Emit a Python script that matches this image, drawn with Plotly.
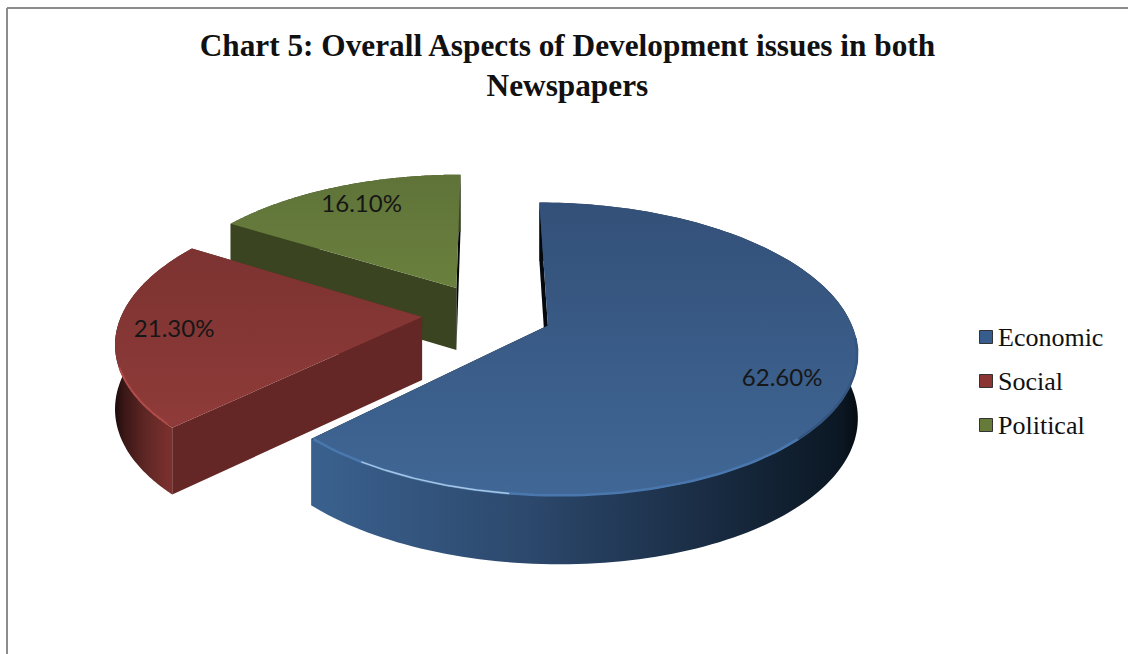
import numpy as np
import plotly.graph_objects as go

# data
categories = ["Economic", "Social", "Political"]
shares = [62.6, 21.3, 16.1]
title_text = "Chart 5: Overall Aspects of Development issues in both<br>Newspapers"

# 3d look of the pie: centre, radii, tilt, explosion, thickness
X0, Y0 = 487, 313.6
RX, RY = 300, 139
PERSP = 0.16
EXPLODE = 0.217
THICK = 63

top_colors = [("#406796", "#335078"), ("#8f3b39", "#7c3331"), ("#6a803d", "#5f7339")]
wall_colors = [
    [[0, "#3a618e"], [0.4, "#2c486c"], [0.75, "#182a40"], [0.97, "#0b1723"], [1, "#060c12"]],
    [[0, "#1c0c0b"], [0.12, "#3a1716"], [0.4, "#5f2725"], [0.75, "#7e312f"], [1, "#8a3532"]],
    [[0, "#3a4420"], [1, "#3a4420"]],
]
cut_colors = [("#05080c", "#05080c"), ("#652725", "#652725"), ("#3a4420", "#05070a")]
rim_colors = ["#4a78ae", "#b04a46", "#6a803d"]
legend_y = [337, 381, 425]
legend_colors = ["#375d8c", "#8a3532", "#667b3a"]
label_radius = [0.85, 0.81, 0.72]
label_nudge = [(-21, 5), (-1, 1), (-5, -7)]


def project(u, v, depth=0.0):
    u, v = np.asarray(u, float), np.asarray(v, float)
    w = 1 - PERSP * v
    drop = depth * (1 + 0.08 * v)
    return X0 + RX * u / w, Y0 + RY * v / w + drop


def polygon(xs, ys, fill=None, gradient=None):
    return go.Scatter(
        x=xs, y=ys, mode="none", fill="toself", fillcolor=fill, fillgradient=gradient,
        hoverinfo="skip", showlegend=False,
    )


def cut_face(cu, cv, t, color):
    fu = np.array([cu, cu + np.sin(t)])
    fv = np.array([cv, cv - np.cos(t)])
    xa, ya = project(fu, fv)
    xb, yb = project(fu, fv, THICK)
    return polygon(np.r_[xa, xb[::-1]], np.r_[ya, yb[::-1]], fill=color)


def rim(cu, cv, deg0, deg1, color, width):
    tr = np.radians(np.linspace(deg0, deg1, 60))
    xr, yr = project(cu + 0.998 * np.sin(tr), cv - 0.998 * np.cos(tr))
    return go.Scatter(x=xr, y=yr, mode="lines", hoverinfo="skip", showlegend=False,
                      line=dict(color=color, width=width))


fig = go.Figure()

edges = np.cumsum([0] + shares) / sum(shares) * 2 * np.pi
slices = []
for i in range(len(shares)):
    t0, t1 = edges[i], edges[i + 1]
    mid = (t0 + t1) / 2
    slices.append((i, t0, t1, EXPLODE * np.sin(mid), -EXPLODE * np.cos(mid), mid))

# back slices first so the front ones cover them
for i, t0, t1, cu, cv, mid in reversed(slices):
    th = np.linspace(t0, t1, 160)
    u = cu + np.sin(th)
    v = cv - np.cos(th)

    # closing face goes under the wall, opening face over it
    fig.add_trace(cut_face(cu, cv, t1, cut_colors[i][1]))

    xa, ya = project(u, v)
    xb, yb = project(u, v, THICK)
    fig.add_trace(polygon(
        np.r_[xa, xb[::-1]], np.r_[ya, yb[::-1]],
        gradient=dict(type="horizontal", colorscale=wall_colors[i]),
    ))

    fig.add_trace(cut_face(cu, cv, t0, cut_colors[i][0]))

    # top face
    xt, yt = project(np.r_[cu, u], np.r_[cv, v])
    fig.add_trace(polygon(
        xt, yt,
        gradient=dict(type="vertical", colorscale=[[0, top_colors[i][0]], [1, top_colors[i][1]]]),
    ))

    # light rim on the front edge
    if i == 0:
        fig.add_trace(rim(cu, cv, 95, 135, "#33557f", 2.5))
        fig.add_trace(rim(cu, cv, 135, 225, rim_colors[0], 2.5))
        fig.add_trace(rim(cu, cv, 188, 214, "#a8c6e4", 1.5))
    if i == 1:
        fig.add_trace(rim(cu, cv, 227, 250, rim_colors[1], 2))

# value labels
for i, t0, t1, cu, cv, mid in slices:
    lx, ly = project(cu + label_radius[i] * np.sin(mid), cv - label_radius[i] * np.cos(mid))
    fig.add_trace(go.Scatter(
        x=[float(lx) + label_nudge[i][0]], y=[float(ly) + label_nudge[i][1]],
        mode="text", text=[f"{shares[i]:.2f}%"],
        textposition="middle center", hoverinfo="skip", showlegend=False,
        textfont=dict(family="Lato", size=24, color="#161616"),
    ))

# legend keys
for name, col, yy in zip(categories, legend_colors, legend_y):
    fig.add_trace(go.Scatter(
        x=[986], y=[yy], mode="markers", name=name, showlegend=False,
        marker=dict(symbol="square", size=13, color=col, line=dict(color="#333333", width=1)),
    ))
    fig.add_trace(go.Scatter(
        x=[998], y=[yy + 2], mode="text", text=[name], textposition="middle right",
        hoverinfo="skip", showlegend=False,
        textfont=dict(family="Liberation Serif", size=26, color="#111111"),
    ))

fig.add_shape(type="line", x0=7, y0=8, x1=1128, y1=8, line=dict(color="#8c8c8c", width=2))
fig.add_shape(type="line", x0=7, y0=8, x1=7, y1=654, line=dict(color="#8c8c8c", width=2))

fig.update_layout(
    width=1128, height=654,
    margin=dict(l=0, r=0, t=0, b=0),
    paper_bgcolor="white", plot_bgcolor="white",
    showlegend=False,
    title=dict(text=title_text, x=0.503, xanchor="center", y=0.915, yanchor="top",
               font=dict(family="Liberation Serif", size=31.3, color="#111111", weight="bold")),
    xaxis=dict(range=[0, 1128], visible=False),
    yaxis=dict(range=[654, 0], visible=False),
)

fig.write_html("out.html", config={"displayModeBar": False},
               post_script="document.body.style.margin='0';")
